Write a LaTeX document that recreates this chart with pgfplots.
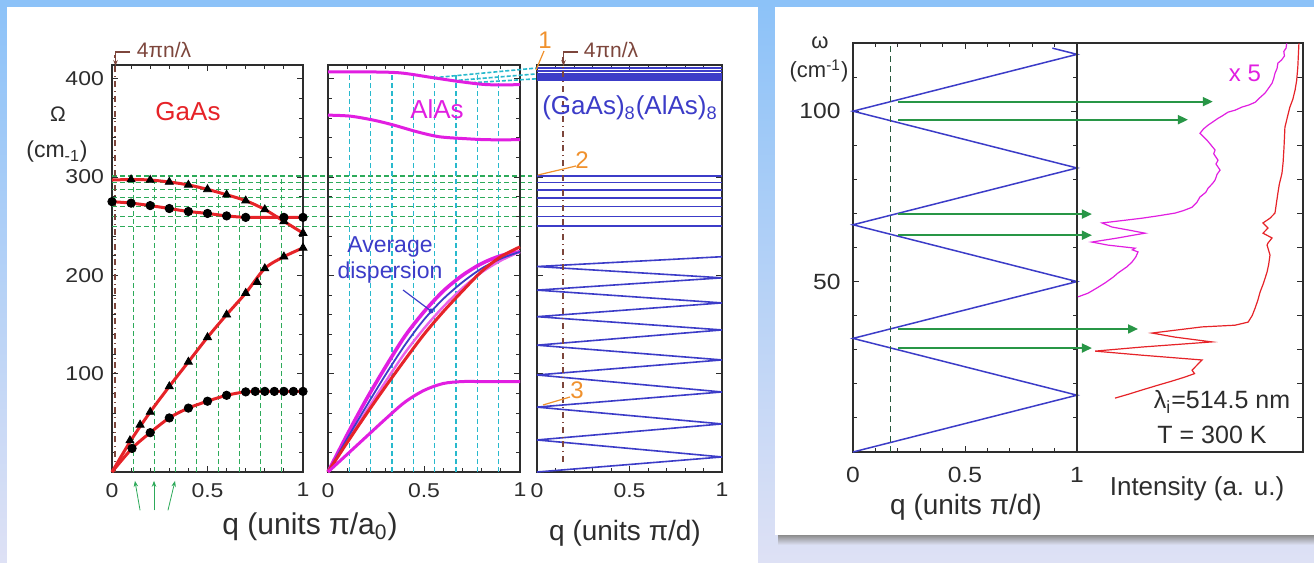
\documentclass[border=0pt]{standalone}
\usepackage{fontspec}
\setmainfont{Liberation Sans}
\usepackage{pgfplots}
\pgfplotsset{compat=1.18}
\usetikzlibrary{arrows.meta}
\definecolor{gaasred}{RGB}{230,35,40}
\definecolor{alasmag}{RGB}{225,30,225}
\definecolor{slblue}{RGB}{60,60,200}
\definecolor{dgreen}{RGB}{45,170,90}
\definecolor{dcyan}{RGB}{40,185,205}
\definecolor{orng}{RGB}{240,145,45}
\definecolor{brn}{RGB}{125,70,60}
\definecolor{axgray}{RGB}{45,45,45}
\definecolor{arrgreen}{RGB}{40,150,70}
\definecolor{dashdk}{RGB}{40,90,60}
\definecolor{bgtop}{RGB}{140,194,248}
\definecolor{bgbot}{RGB}{222,225,245}

\pgfplotsset{
  base/.style={scale only axis, anchor=south west, clip=false,
    axis line style={axgray, line width=0.7pt},
    tick align=inside, tick style={axgray, line width=0.5pt},
    major tick length=3pt, minor tick length=1.8pt,
    /pgf/number format/assume math mode=true,
    tick label style={text=axgray},
  },
  lpan/.style={base, width=95.5pt, height=203.5pt, xmin=0, xmax=1, ymin=0, ymax=414,
    xtick={0,0.5,1}, minor xtick={0.1,0.2,0.3,0.4,0.6,0.7,0.8,0.9},
    ytick={100,200,300,400}, minor ytick={20,40,...,400},
    xticklabels={0,0.5,1},
    xticklabel style={font=\fontsize{10}{12}\selectfont, xscale=1.15, yshift=-2pt},
    yticklabel style={font=\fontsize{10}{12}\selectfont, xscale=1.15},
  },
  rpan/.style={base, width=112pt, height=204.5pt, ymin=0, ymax=120,
    minor ytick={0,10,...,120},
    xticklabel style={font=\fontsize{11}{13}\selectfont, xscale=1.12, yshift=-4pt},
    yticklabel style={font=\fontsize{11}{13}\selectfont, xscale=1.12, xshift=-2pt},
  },
}

\begin{document}
\begin{tikzpicture}[x=0.5pt,y=0.5pt]
\useasboundingbox (0,0) rectangle (1314,563);
\shade[top color=bgtop, bottom color=bgbot] (0,0) rectangle (1314,563);
\fill[bgtop] (0,556) rectangle (1314,563);
\fill[white] (7,0) rectangle (758,556);
\shade[top color=black!45, bottom color=bgbot] (778,18) rectangle (1314,28);
\fill[white] (775,28) rectangle (1314,556);

%================ GaAs =================
\begin{axis}[lpan, at={(56pt,45.5pt)}]
\pgfplotsinvokeforeach{0.111,0.222,0.333,0.444,0.556,0.667,0.778,0.889}{
  \addplot[dgreen, dash pattern=on 2.5pt off 1.5pt, line width=0.6pt] coordinates {(#1,0) (#1,300)};
}
\pgfplotsinvokeforeach{301,294.5,287,279,270,260,250}{
  \addplot[dgreen, dash pattern=on 2.5pt off 1.5pt, line width=0.6pt] coordinates {(0,#1) (2.2,#1)};
}
\addplot[brn, dash dot, line width=0.7pt] coordinates {(0.015,0) (0.015,424)};
% LO
\addplot[gaasred, line width=1.5pt, smooth] coordinates {(0,297)(0.1,297.5)(0.2,297)(0.3,295)(0.4,292)(0.5,287.5)(0.6,282)(0.7,276)(0.8,267)(0.9,255)(1,243)};
\addplot[only marks, mark=triangle*, mark size=2.3pt, black] coordinates {(0.1,297.5)(0.2,297)(0.3,295)(0.4,292)(0.5,287.5)(0.6,282)(0.7,276)(0.8,267)(0.9,255)(1,243)};
% TO
\addplot[gaasred, line width=1.5pt, smooth] coordinates {(0,275)(0.1,273.5)(0.2,271)(0.3,268)(0.4,265)(0.5,263)(0.6,260.5)(0.7,259)(0.8,259)(0.9,259)(1,259)};
\addplot[only marks, mark=*, mark size=2.1pt, black] coordinates {(0,275)(0.1,273.5)(0.2,271)(0.3,268)(0.4,265)(0.5,263)(0.6,260.5)(0.7,259)(0.9,259)(1,259)};
% LA
\addplot[gaasred, line width=1.5pt, smooth] coordinates {(0,0)(0.1,32.5)(0.2,61)(0.3,87)(0.4,112)(0.5,137)(0.6,160)(0.7,182)(0.8,207)(0.9,219)(1,228)};
\addplot[only marks, mark=triangle*, mark size=2.3pt, black] coordinates {(0.094,32)(0.147,48)(0.2,61)(0.3,87)(0.4,112)(0.5,137)(0.6,160)(0.7,182)(0.76,193)(0.8,207)(0.9,219)(1,228)};
% TA
\addplot[gaasred, line width=1.5pt, smooth] coordinates {(0,0)(0.105,24)(0.2,40)(0.3,55)(0.4,65)(0.5,72)(0.6,78)(0.7,81.5)(0.8,82)(0.9,82)(1,82)};
\addplot[only marks, mark=*, mark size=2.1pt, black] coordinates {(0.105,24)(0.2,40)(0.3,55)(0.4,65)(0.5,72)(0.6,78)(0.7,81.5)(0.75,82)(0.8,82)(0.85,82)(0.9,82)(0.95,82)(1,82)};
% small arrows below axis
\addplot[dgreen, line width=0.4pt, -{Stealth[length=3pt]}] coordinates {(0.147,-39)(0.12,-9)};
\addplot[dgreen, line width=0.4pt, -{Stealth[length=3pt]}] coordinates {(0.220,-39)(0.220,-9)};
\addplot[dgreen, line width=0.4pt, -{Stealth[length=3pt]}] coordinates {(0.293,-39)(0.33,-9)};
\end{axis}

%================ AlAs =================
\begin{axis}[lpan, at={(164pt,45.5pt)}, width=96pt, yticklabels={}]
\pgfplotsinvokeforeach{0.111,0.222,0.333,0.444,0.556,0.667,0.778,0.889}{
  \addplot[dcyan, dash pattern=on 2.5pt off 1.5pt, line width=0.6pt] coordinates {(#1,0) (#1,406)};
}
\addplot[dcyan, dash pattern=on 2pt off 1pt, line width=0.8pt] coordinates {(0.55,401)(1.09,411)};
\addplot[dcyan, dash pattern=on 2pt off 1pt, line width=0.8pt] coordinates {(0.65,398)(1.09,405)};
\addplot[dcyan, dash pattern=on 2pt off 1pt, line width=0.8pt] coordinates {(0.75,396)(1.09,400)};
% LO, TO
\addplot[alasmag, line width=1.5pt, smooth] coordinates {(0,407)(0.2,407)(0.375,406)(0.55,401)(0.69,397)(0.83,394)(1,394)};
\addplot[alasmag, line width=1.5pt, smooth] coordinates {(0,363)(0.115,362)(0.235,358)(0.34,353)(0.465,346)(0.58,341)(0.72,339)(0.83,338)(1,338)};
% LA (AlAs), average, GaAs
\addplot[alasmag, line width=1.8pt, smooth] coordinates {(0,0)(0.1,38)(0.2,74)(0.3,107)(0.4,138)(0.5,163)(0.6,184)(0.7,200)(0.8,212)(0.9,220)(1,224)};
\addplot[alasmag!70, line width=1.2pt, smooth] coordinates {(0,0)(0.1,31)(0.2,62)(0.3,92)(0.4,121)(0.5,146)(0.6,168)(0.7,187)(0.8,203)(0.9,215)(1,224)};
\addplot[slblue, line width=0.9pt, smooth] coordinates {(0,0)(0.1,34)(0.2,67)(0.3,99)(0.4,129)(0.5,155)(0.6,176)(0.7,193)(0.8,207)(0.9,217)(1,224)};
\addplot[gaasred, line width=1.5pt, smooth] coordinates {(0,0)(0.1,30)(0.2,59)(0.3,87)(0.4,114)(0.5,140)(0.6,163)(0.7,184)(0.8,204)(0.9,219)(1,229)};
% TA
\addplot[alasmag, line width=1.5pt, smooth] coordinates {(0,0)(0.1,18)(0.2,36)(0.3,54)(0.4,71)(0.5,83)(0.6,90)(0.7,92)(0.8,92)(1,92)};
\end{axis}

%================ (GaAs)8(AlAs)8 =================
\begin{axis}[lpan, at={(268.5pt,45.5pt)}, width=92.5pt, yticklabels={}, ytick={100,200,300,400}, minor ytick={}]
\pgfplotsinvokeforeach{399,402,405,408,411}{
  \addplot[slblue, line width=1.3pt] coordinates {(0,#1) (1,#1)};
}
\pgfplotsinvokeforeach{301,294.5,287,279,270,260,250}{
  \addplot[slblue, line width=0.8pt] coordinates {(0,#1) (1,#1)};
}
\addplot[slblue, line width=0.8pt] coordinates {(0,0)(1,15.3)(0,32.6)(1,48.9)(0,66)(1,81.4)(0,98.7)(1,114)(0,129)(1,144.5)(0,158)(1,172)(0,185)(1,197.5)(0,209)(1,219)};
\addplot[brn, dash dot, line width=0.7pt] coordinates {(0.14,10) (0.14,424)};
\end{axis}

%================ dispersion (right) =================
\begin{axis}[rpan, at={(426.5pt,55.5pt)}, xmin=0, xmax=1,
  xtick={0,0.5,1}, xticklabels={0,0.5,1}, minor xtick={0.1,0.2,0.3,0.4,0.6,0.7,0.8,0.9},
  ytick={50,100}]
\addplot[slblue, line width=0.75pt] coordinates {(0,0)(1,16.67)(0,33.33)(1,50)(0,66.67)(1,83.33)(0,100)(1,116.67)(0.89,118.5)};
\addplot[dashdk, dash pattern=on 3pt off 2pt, line width=0.6pt] coordinates {(0.168,0)(0.168,120)};
\end{axis}

%================ intensity =================
\begin{axis}[rpan, at={(538.5pt,55.5pt)}, width=113pt, xmin=0, xmax=1, xtick=\empty,
  ytick={0,10,...,120}, yticklabels={}, ytick pos=right, minor ytick={}]
\addplot[alasmag, line width=0.6pt] coordinates {(0.928,119.9)(0.925,118.5)(0.915,117.5)(0.918,116.2)(0.905,115)(0.889,114.1)(0.885,112.5)(0.876,111.1)(0.87,109.5)(0.863,108.2)(0.845,106.5)(0.832,105.3)(0.81,104)(0.788,102.6)(0.76,101.8)(0.73,101.2)(0.70,100.3)(0.668,99.7)(0.64,98.5)(0.624,97.9)(0.60,96.8)(0.58,95.9)(0.56,94.8)(0.544,93.5)(0.56,92.5)(0.575,91.5)(0.59,90.3)(0.611,88.6)(0.605,87.5)(0.624,85.6)(0.615,84.5)(0.633,82.7)(0.62,81.5)(0.611,79.8)(0.60,78.8)(0.58,77.4)(0.57,76.2)(0.544,74.8)(0.53,73.2)(0.509,71.8)(0.47,70.8)(0.434,70.1)(0.36,69.3)(0.288,68.6)(0.20,67.9)(0.111,67.2)(0.155,66.0)(0.23,65.1)(0.301,64.2)(0.24,63.5)(0.181,62.8)(0.066,61.6)(0.137,60.7)(0.257,59.8)(0.245,59.3)(0.270,58.7)(0.26,57.2)(0.243,55.7)(0.22,54.3)(0.181,52.5)(0.16,51.3)(0.124,49.6)(0.09,48.2)(0.049,46.6)(0.004,45.5)};
\addplot[gaasred, line width=0.6pt] coordinates {(0.982,119.9)(0.977,112.9)(0.972,109)(0.965,106.2)(0.955,103.5)(0.942,101.2)(0.93,98)(0.920,95.3)(0.916,89.4)(0.912,85)(0.907,81.8)(0.895,78.5)(0.889,76.0)(0.876,70.1)(0.854,68.6)(0.823,67.2)(0.845,65.7)(0.823,64.2)(0.863,62.8)(0.845,61.3)(0.841,60.7)(0.854,57.8)(0.848,55)(0.841,52.8)(0.825,49.5)(0.810,46.9)(0.80,44.5)(0.788,42.2)(0.775,40)(0.757,38.1)(0.699,37.2)(0.553,36.7)(0.332,34.9)(0.434,33.7)(0.597,32.3)(0.288,30.8)(0.080,29.6)(0.288,28.4)(0.553,27.0)(0.509,24.0)(0.52,23)(0.478,22.0)(0.42,20.8)(0.358,19.6)(0.288,18.2)(0.23,17)(0.168,15.8)};
% green arrows from the dispersion panel
\addplot[arrgreen, line width=0.9pt, -{Triangle[length=5pt,width=4.5pt]}] coordinates {(-0.792,102.8)(0.601,102.8)};
\addplot[arrgreen, line width=0.9pt, -{Triangle[length=5pt,width=4.5pt]}] coordinates {(-0.792,97.5)(0.491,97.5)};
\addplot[arrgreen, line width=0.9pt, -{Triangle[length=5pt,width=4.5pt]}] coordinates {(-0.792,69.8)(0.066,69.8)};
\addplot[arrgreen, line width=0.9pt, -{Triangle[length=5pt,width=4.5pt]}] coordinates {(-0.792,63.6)(0.066,63.6)};
\addplot[arrgreen, line width=0.9pt, -{Triangle[length=5pt,width=4.5pt]}] coordinates {(-0.792,36.1)(0.27,36.1)};
\addplot[arrgreen, line width=0.9pt, -{Triangle[length=5pt,width=4.5pt]}] coordinates {(-0.792,30.5)(0.066,30.5)};
\end{axis}

%================ texts =================
\node[text=axgray, font=\fontsize{10.5}{12}\selectfont] at (58,449) {Ω};
\node[text=axgray, font=\fontsize{11.5}{13}\selectfont] at (57,411) {(cm\textsubscript{-1})};
\node[text=brn, font=\fontsize{10.5}{12}\selectfont] at (164,513) {4πn/λ};
\draw[brn, line width=0.6pt, -{Stealth[length=3pt]}] (130,511) -- (115.5,511) -- (115.5,497);
\node[text=brn, font=\fontsize{10.5}{12}\selectfont] at (611,513) {4πn/λ};
\draw[brn, line width=0.6pt, -{Stealth[length=3pt]}] (578,511) -- (563.5,511) -- (563.5,497);
\node[text=gaasred, font=\fontsize{13}{15}\selectfont] at (188,451) {GaAs};
\node[text=alasmag, font=\fontsize{13}{15}\selectfont] at (437,454) {AlAs};
\node[text=slblue, font=\fontsize{13}{15}\selectfont] at (630,455) {(GaAs)\textsubscript{8}(AlAs)\textsubscript{8}};
\node[text=slblue, font=\fontsize{11.5}{13}\selectfont, align=center] at (390,303) {Average\\dispersion};
\draw[slblue, line width=0.6pt] (403,273) -- (431,252);
\fill[slblue] (431,252) circle (2.5);
\node[text=orng, font=\fontsize{12}{14}\selectfont] at (545,523) {1};
\draw[orng, line width=0.6pt] (544,512) -- (536,493);
\node[text=orng, font=\fontsize{12}{14}\selectfont] at (582,403) {2};
\draw[orng, line width=0.6pt] (576,397) -- (538,388);
\node[text=orng, font=\fontsize{12}{14}\selectfont] at (577,173) {3};
\draw[orng, line width=0.6pt] (570,166) -- (543,158);
\node[text=axgray, font=\fontsize{15}{17}\selectfont] at (310,36) {q (units π/a\textsubscript{0})};
\node[text=axgray, font=\fontsize{14}{16}\selectfont] at (625,30) {q (units π/d)};
% right panel
\node[text=axgray, font=\fontsize{11}{13}\selectfont] at (820,520) {ω};
\node[text=axgray, font=\fontsize{11}{13}\selectfont] at (819,492) {(cm\textsuperscript{-1})};
\node[text=axgray, font=\fontsize{14}{16}\selectfont] at (966,56) {q (units π/d)};
\node[text=axgray, font=\fontsize{13}{15}\selectfont] at (1197,74) {Intensity (a. u.)};
\node[text=alasmag, font=\fontsize{12}{14}\selectfont] at (1245,490) {x 5};
\node[text=axgray, font=\fontsize{12.5}{14}\selectfont] at (1222,161) {λ\textsubscript{i}=514.5 nm};
\node[text=axgray, font=\fontsize{12.5}{14}\selectfont] at (1212,128) {T = 300 K};
\end{tikzpicture}
\end{document}
